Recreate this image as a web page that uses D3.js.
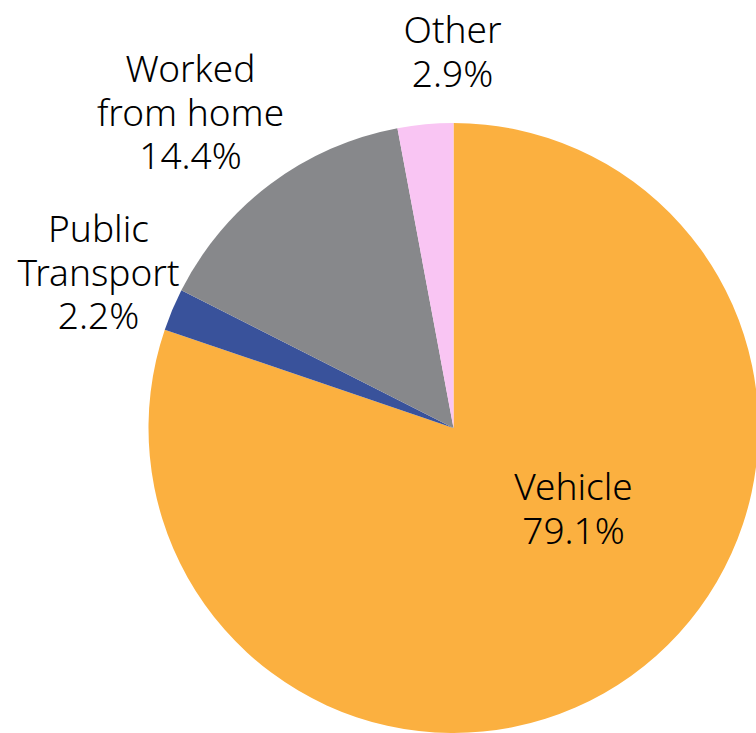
<!DOCTYPE html>
<html>
<head>
<meta charset="utf-8">
<script src="https://cdn.jsdelivr.net/npm/d3@7"></script>
<style>
  body { margin: 0; background: #fff; }
  text { font-family: "Noto Sans", sans-serif; fill: #000; }
</style>
</head>
<body>
<script>
// Data
var categories = ["Vehicle", "Public Transport", "Worked from home", "Other"];
var values = [79.1, 2.2, 14.4, 2.9];
var labelLines = [["Vehicle"], ["Public", "Transport"], ["Worked", "from home"], ["Other"]];
var colors = ["#FBB040", "#39529B", "#87888B", "#F9C5F3"];

function init() {
    var w = 756;
    var h = 733;
    var cx = 453.5, cy = 428, r = 305;

    var svg = d3.select("body")
                .append("svg")
                .attr("width", w)
                .attr("height", h);

    var g = svg.append("g").attr("transform", "translate(" + cx + "," + cy + ")");

    var table = categories.map(function(c, i) {
        return { name: c, value: values[i], lines: labelLines[i], color: colors[i] };
    });

    var pie = d3.pie().sort(null).value(d => d.value);
    var arc = d3.arc().innerRadius(0).outerRadius(r);

    g.selectAll("path")
     .data(pie(table))
     .enter()
     .append("path")
     .attr("d", arc)
     .attr("fill", d => d.data.color);

    // label anchor (x center, first baseline) relative to the pie centre
    var labelPos = {
        "Vehicle": [120, 72],
        "Public Transport": [-355, -186],
        "Worked from home": [-263, -346],
        "Other": [-1, -385]
    };
    var lineH = 43.5;

    table.forEach(function(d) {
        var p = labelPos[d.name];
        var t = g.append("text")
                 .attr("text-anchor", "middle")
                 .attr("font-size", "37px")
                 .attr("font-weight", 300);
        var lines = d.lines.concat([d.value.toFixed(1) + "%"]);
        lines.forEach(function(s, i) {
            t.append("tspan")
             .attr("x", p[0])
             .attr("y", p[1] + i * lineH)
             .text(s);
        });
    });
}

window.onload = init;
</script>
</body>
</html>
